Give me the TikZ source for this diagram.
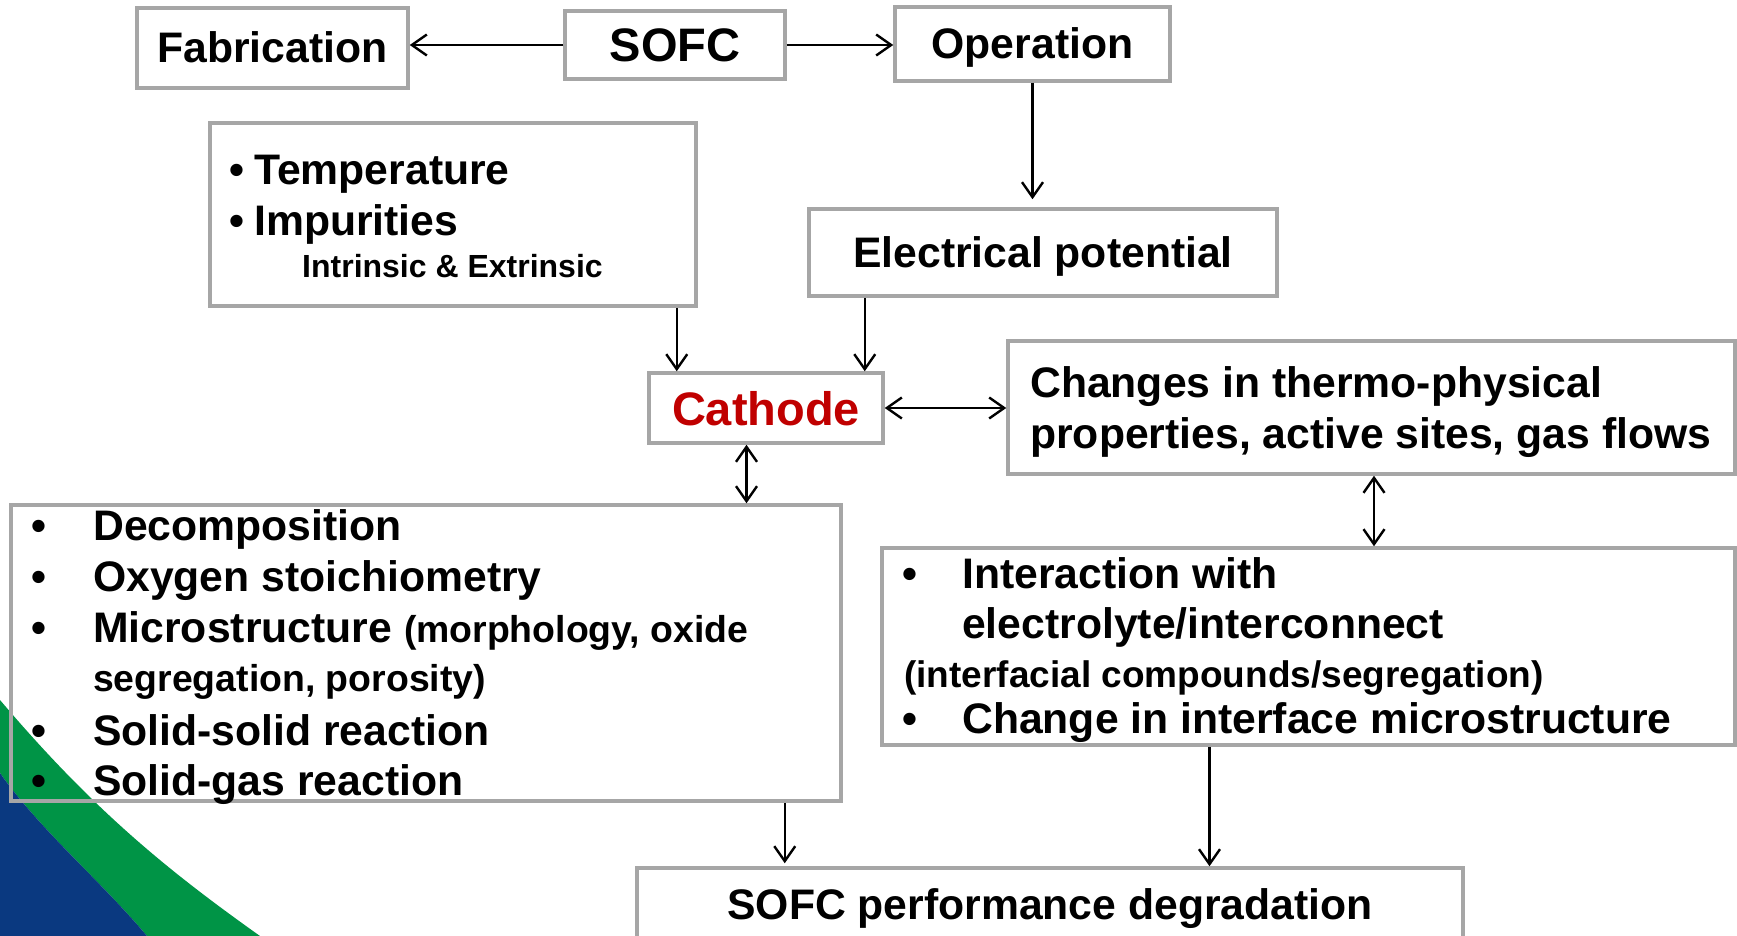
\documentclass[tikz,border=0pt]{standalone}
\usepackage{fontspec}
\setmainfont{Liberation Sans}
\usetikzlibrary{arrows.meta}
\definecolor{boxgray}{RGB}{166,166,166}
\definecolor{swgreen}{RGB}{0,148,70}
\definecolor{swblue}{RGB}{10,57,128}
\definecolor{cathred}{RGB}{192,0,0}
\newcommand\sizeC{\fontsize{47pt}{56pt}\selectfont}
\newcommand\sizeL{\fontsize{42.7pt}{50pt}\selectfont}
\newcommand\sizeM{\fontsize{37pt}{44pt}\selectfont}
\newcommand\sizeN{\fontsize{37.4pt}{44pt}\selectfont}
\newcommand\sizeS{\fontsize{32pt}{38pt}\selectfont}
\tikzset{
  box/.style={draw=boxgray, line width=3.5pt, rectangle, inner sep=0pt},
  lbl/.style={box, font=\bfseries\sizeL, text height=30pt, text depth=0pt},
  txt/.style={anchor=base west, inner sep=0pt, font=\bfseries\sizeL},
  bul/.style={anchor=base, inner sep=0pt, font=\bfseries\sizeL},
  tip/.tip={Straight Barb[length=15pt, width=21pt]},
  arr/.style={line width=2.4pt, -tip},
  dbl/.style={line width=2.4pt, tip-tip}
}
\begin{document}
\begin{tikzpicture}[x=1pt, y=-1pt]
\useasboundingbox (0,0) rectangle (1737,936);

% corner swoosh
\fill[swgreen] (0,700) .. controls (95,812) and (170,872) .. (260,936)
  -- (147,936) .. controls (100,880) and (40,830) .. (0,773) -- cycle;
\fill[swblue] (0,773) .. controls (40,830) and (100,880) .. (147,936)
  -- (0,936) -- cycle;

% single-line boxes
\node[lbl, minimum width=271pt, minimum height=80pt] (fab) at (272.5,48) {Fabrication};
\node[lbl, font=\bfseries\sizeC, text height=34pt, minimum width=220pt, minimum height=68pt] (sofc) at (675,45) {SOFC};
\node[lbl, minimum width=275pt, minimum height=74pt] (oper) at (1032.5,44) {Operation};
\node[lbl, minimum width=468pt, minimum height=87pt] (elec) at (1043,252.5) {Electrical potential};
\node[lbl, font=\bfseries\sizeC, text height=34pt, text=cathred, minimum width=234pt, minimum height=70pt] (cath) at (766,408) {Cathode};

% multi-line boxes
\node[box, minimum width=486pt, minimum height=183pt] (temp) at (453,214.5) {};
\node[box, minimum width=727pt, minimum height=133pt] (chg) at (1371.5,407.5) {};
\node[box, minimum width=830pt, minimum height=296pt] (dec) at (426,653) {};
\node[box, minimum width=853pt, minimum height=197pt] (inter) at (1308.5,646.5) {};
\node[box, minimum width=826pt, minimum height=74pt] (perf) at (1050,905) {};

% operating factors
\node[bul] (tb1) at (236.5,185) {•};
\node[txt] (t1) at (254,185) {Temperature};
\node[bul] (tb2) at (236.5,236) {•};
\node[txt] (t2) at (254,236) {Impurities};
\node[txt, font=\bfseries\sizeS] (t3) at (302,277) {Intrinsic \& Extrinsic};

% property changes
\node[txt] (c1) at (1030,397) {Changes in thermo-physical};
\node[txt] (c2) at (1030,448) {properties, active sites, gas flows};

% cathode mechanisms
\node[bul] (db1) at (39,540) {•};
\node[txt] (d1) at (93,540) {Decomposition};
\node[bul] (db2) at (39,591) {•};
\node[txt] (d2) at (93,591) {Oxygen stoichiometry};
\node[bul] (db3) at (39,642) {•};
\node[txt] (d3) at (93,642) {Microstructure {\sizeN(morphology, oxide}};
\node[txt, font=\bfseries\sizeN] (d4) at (93,691) {segregation, porosity)};
\node[bul] (db5) at (39,745) {•};
\node[txt] (d5) at (93,745) {Solid-solid reaction};
\node[bul] (db6) at (39,795) {•};
\node[txt] (d6) at (93,795) {Solid-gas reaction};

% interface effects
\node[bul] (ib1) at (910,588) {•};
\node[txt] (i1) at (962,588) {Interaction with};
\node[txt] (i2) at (962,638) {electrolyte/interconnect};
\node[txt, font=\bfseries\sizeM] (i3) at (904,687) {(interfacial compounds/segregation)};
\node[bul] (ib4) at (910,733) {•};
\node[txt] (i4) at (962,733) {Change in interface microstructure};

% outcome
\node[txt, anchor=base] (p1) at (1050,919) {SOFC performance degradation};

% connectors
\draw[arr] (sofc.west) -- (sofc.west -| fab.east);
\draw[arr] (sofc.east) -- (sofc.east -| oper.west);
\draw[arr, shorten >=8pt] (oper.south) -- (oper.south |- elec.north);
\draw[arr] ([xshift=-21pt]temp.south east) -- ([xshift=-21pt]temp.south east |- cath.north);
\draw[arr] ([xshift=-20pt]cath.north east |- elec.south) -- ([xshift=-20pt]cath.north east);
\draw[dbl] (cath.east) -- (cath.east -| chg.west);
\draw[dbl] ([xshift=-19.5pt]cath.south) -- ([xshift=-19.5pt]cath.south |- dec.north);
\draw[dbl] ([xshift=2.5pt]chg.south) -- ([xshift=2.5pt]chg.south |- inter.north);
\draw[arr, shorten >=3pt] ([xshift=-58pt]dec.south east) -- ([xshift=-58pt]dec.south east |- perf.north);
\draw[arr] ([xshift=-99pt]inter.south) -- ([xshift=-99pt]inter.south |- perf.north);
\end{tikzpicture}
\end{document}
